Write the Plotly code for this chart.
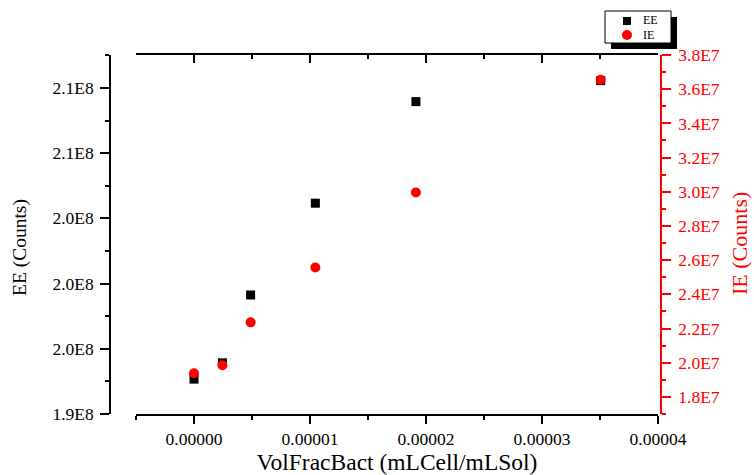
import plotly.graph_objects as go

# Data
vol_frac = [0.0, 2.45e-6, 4.88e-6, 1.046e-5, 1.913e-5, 3.506e-5]
ee_counts = [1.9414e8, 1.9514e8, 1.9930e8, 2.0493e8, 2.1116e8, 2.1245e8]
ie_counts = [1.938e7, 1.985e7, 2.236e7, 2.557e7, 2.996e7, 3.655e7]

x_tickvals = [0.0, 1e-5, 2e-5, 3e-5, 4e-5]
x_ticktext = ["0.00000", "0.00001", "0.00002", "0.00003", "0.00004"]
ee_tickvals = [1.92e8, 1.96e8, 2.00e8, 2.04e8, 2.08e8, 2.12e8]
ee_ticktext = ["1.9E8", "2.0E8", "2.0E8", "2.0E8", "2.1E8", "2.1E8"]
ie_tickvals = [1.8e7, 2.0e7, 2.2e7, 2.4e7, 2.6e7, 2.8e7, 3.0e7, 3.2e7, 3.4e7, 3.6e7, 3.8e7]
ie_ticktext = ["1.8E7", "2.0E7", "2.2E7", "2.4E7", "2.6E7", "2.8E7", "3.0E7", "3.2E7", "3.4E7", "3.6E7", "3.8E7"]
series_names = ["EE", "IE"]

FONT = "Liberation Serif"
RED = "#FF0000"

W, H = 754, 475
L, R, T, B = 110, 93, 55, 61
pw = W - L - R
ph = H - T - B
x0 = (136 - L) / pw
x1 = (658 - L) / pw


def px(xp):
    return (xp - L) / pw


def py(yp):
    return (H - B - yp) / ph


fig = go.Figure()
fig.add_trace(go.Scatter(x=vol_frac, y=ee_counts, mode="markers", name=series_names[0],
                         marker=dict(symbol="square", size=9, color="black"),
                         xaxis="x", yaxis="y"))
fig.add_trace(go.Scatter(x=vol_frac, y=ie_counts, mode="markers", name=series_names[1],
                         marker=dict(symbol="circle", size=10, color=RED),
                         xaxis="x", yaxis="y2"))
fig.add_trace(go.Scatter(x=[None], y=[None], xaxis="x2", yaxis="y",
                         showlegend=False, hoverinfo="skip"))

xr = [-0.5e-5, 4.0e-5]
common_x = dict(range=xr, domain=[x0, x1], showgrid=False, zeroline=False,
                showline=True, linecolor="black", linewidth=1.5, automargin=False,
                tickvals=x_tickvals, ticklen=8, tickwidth=1.5, tickcolor="black")

fig.update_layout(
    width=W, height=H,
    margin=dict(l=L, r=R, t=T, b=B, pad=0, autoexpand=False),
    paper_bgcolor="white", plot_bgcolor="white",
    font=dict(family=FONT, size=17, color="black"),
    showlegend=False,
    xaxis=dict(**common_x, ticktext=x_ticktext, ticks="outside", anchor="y",
               minor=dict(dtick=0.5e-5, tick0=-0.5e-5, ticks="outside", ticklen=4,
                          tickwidth=1.5, tickcolor="black"),
               tickfont=dict(family=FONT, size=17.5),
               title=dict(text="VolFracBact (mLCell/mLSol)", standoff=10,
                          font=dict(family=FONT, size=23.5))),
    xaxis2=dict(**common_x, ticks="inside", side="top", overlaying="x",
                anchor="y", showticklabels=False, matches="x",
                minor=dict(dtick=0.5e-5, tick0=-0.5e-5, ticks="inside", ticklen=4,
                           tickwidth=1.5, tickcolor="black")),
    yaxis=dict(range=[1.92e8, 2.1402e8], domain=[0, 1], anchor="free", position=0,
               automargin=False,
               showgrid=False, zeroline=False, showline=True, linecolor="black",
               linewidth=1.5, ticks="outside", ticklen=9, tickwidth=1.5,
               tickcolor="black", tickvals=ee_tickvals, ticktext=ee_ticktext,
               ticklabelstandoff=3,
               minor=dict(dtick=0.02e8, tick0=1.92e8, ticks="outside", ticklen=4,
                          tickwidth=1.5, tickcolor="black"),
               tickfont=dict(family=FONT, size=17.5)),
    yaxis2=dict(range=[1.7e7, 3.8e7], domain=[0, 1], anchor="free", position=1,
                overlaying="y", side="right", automargin=False,
                showgrid=False, zeroline=False, showline=True, linecolor=RED,
                linewidth=1.5, ticks="outside", ticklen=9, tickwidth=1.5,
                tickcolor=RED, tickvals=ie_tickvals, ticktext=ie_ticktext,
                ticklabelstandoff=4,
                minor=dict(dtick=0.1e7, tick0=1.7e7, ticks="outside", ticklen=4,
                           tickwidth=1.5, tickcolor=RED),
                tickfont=dict(family=FONT, size=17.5, color=RED)),
)

# y-axis titles
fig.add_annotation(text="EE (Counts)", xref="paper", yref="paper", x=px(20), y=py(248),
                   textangle=-90, showarrow=False, xanchor="center", yanchor="middle",
                   font=dict(family=FONT, size=19.5, color="black"))
fig.add_annotation(text="IE (Counts)", xref="paper", yref="paper", x=px(739), y=py(244),
                   textangle=-90, showarrow=False, xanchor="center", yanchor="middle",
                   font=dict(family=FONT, size=22, color=RED))

# custom legend (shadow, box, symbols, labels)
fig.add_shape(type="rect", xref="paper", yref="paper",
              x0=px(611), x1=px(677), y0=py(49), y1=py(17),
              fillcolor="black", line=dict(width=0))
fig.add_shape(type="rect", xref="paper", yref="paper",
              x0=px(605), x1=px(671), y0=py(43), y1=py(11),
              fillcolor="white", line=dict(color="black", width=1))
fig.add_shape(type="rect", xref="paper", yref="paper",
              x0=px(623), x1=px(631), y0=py(25), y1=py(17),
              fillcolor="black", line=dict(width=0))
fig.add_shape(type="circle", xref="paper", yref="paper",
              x0=px(622), x1=px(632), y0=py(40), y1=py(30),
              fillcolor=RED, line=dict(width=0))
for name, yc in zip(series_names, [20.5, 35]):
    fig.add_annotation(text=name, xref="paper", yref="paper", x=px(641), y=py(yc),
                       xanchor="left", yanchor="middle", showarrow=False,
                       font=dict(family=FONT, size=12, color="black"))

fig.write_html("out.html")
